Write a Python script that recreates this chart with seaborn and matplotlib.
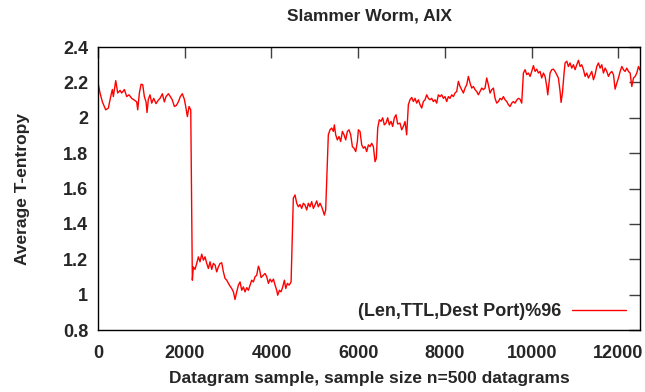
import matplotlib
matplotlib.use("Agg")
import matplotlib.pyplot as plt
import matplotlib.ticker as mticker
import seaborn as sns
import pandas as pd

# Values
sample = [
    0, 46, 100, 177, 238, 292, 330, 353, 408, 454, 507, 546, 607, 661, 715,
    776, 837, 892, 915, 953, 992, 1030, 1068, 1107, 1130, 1160, 1199, 1238,
    1284, 1337, 1391, 1430, 1483, 1529, 1568, 1622, 1668, 1714, 1760, 1806,
    1852, 1898, 1944, 1990, 2022, 2060, 2099, 2138, 2175, 2198, 2237, 2276,
    2314, 2352, 2391, 2430, 2468, 2506, 2545, 2583, 2622, 2660, 2699, 2737,
    2775, 2814, 2853, 2891, 2929, 2968, 3007, 3045, 3083, 3122, 3159, 3198,
    3237, 3275, 3314, 3352, 3390, 3429, 3467, 3505, 3544, 3582, 3621, 3659,
    3698, 3721, 3760, 3814, 3852, 3891, 3929, 3967, 4006, 4045, 4083, 4121,
    4144, 4183, 4220, 4260, 4298, 4329, 4367, 4406, 4452, 4504, 4543, 4582,
    4620, 4658, 4697, 4735, 4773, 4812, 4850, 4889, 4927, 4966, 5004, 5042,
    5081, 5120, 5158, 5196, 5219, 5250, 5311, 5350, 5389, 5427, 5450, 5481,
    5519, 5557, 5596, 5635, 5673, 5712, 5750, 5788, 5827, 5866, 5904, 5943,
    5981, 6004, 6042, 6081, 6119, 6158, 6196, 6235, 6273, 6311, 6350, 6388,
    6418, 6450, 6487, 6526, 6565, 6602, 6641, 6680, 6718, 6757, 6795, 6833,
    6872, 6910, 6964, 7003, 7042, 7080, 7118, 7157, 7195, 7234, 7272, 7311,
    7349, 7388, 7426, 7465, 7503, 7541, 7580, 7618, 7656, 7695, 7733, 7772,
    7810, 7849, 7887, 7926, 7964, 8002, 8041, 8080, 8118, 8157, 8195, 8233,
    8272, 8310, 8349, 8387, 8426, 8464, 8503, 8541, 8579, 8618, 8657, 8695,
    8733, 8772, 8810, 8849, 8887, 8925, 8964, 9002, 9041, 9080, 9118, 9156,
    9195, 9234, 9272, 9310, 9349, 9387, 9426, 9464, 9502, 9541, 9579, 9618,
    9656, 9695, 9733, 9771, 9810, 9849, 9887, 9925, 9964, 10002, 10041,
    10080, 10118, 10156, 10195, 10233, 10272, 10310, 10349, 10372, 10400,
    10425, 10464, 10502, 10540, 10579, 10617, 10656, 10679, 10710, 10748,
    10771, 10810, 10848, 10887, 10925, 10964, 11002, 11041, 11080, 11118,
    11156, 11195, 11233, 11272, 11310, 11349, 11387, 11426, 11464, 11502,
    11541, 11579, 11618, 11656, 11695, 11733, 11772, 11810, 11849, 11887,
    11925, 11964, 12002, 12041, 12080, 12118, 12156, 12195, 12233, 12272,
    12310, 12349, 12387, 12425, 12464, 12500,
]
entropy = [
    2.197, 2.14, 2.09, 2.045, 2.055, 2.12, 2.16, 2.12, 2.21, 2.14, 2.155, 2.14,
    2.16, 2.12, 2.13, 2.11, 2.10, 2.09, 2.045, 2.14, 2.19, 2.187, 2.12, 2.09,
    2.03, 2.105, 2.13, 2.083, 2.11, 2.08, 2.10, 2.11, 2.136, 2.09, 2.12, 2.136,
    2.12, 2.10, 2.064, 2.07, 2.09, 2.12, 2.136, 2.105, 2.064, 2.007, 2.064,
    2.045, 1.082, 1.157, 1.143, 1.177, 1.214, 1.186, 1.229, 1.195, 1.214,
    1.177, 1.148, 1.186, 1.143, 1.177, 1.168, 1.129, 1.157, 1.177, 1.18,
    1.129, 1.092, 1.082, 1.064, 1.048, 1.035, 1.016, 0.973, 1.016, 1.054,
    1.072, 1.025, 1.044, 1.016, 1.04, 1.025, 1.054, 1.082, 1.072, 1.101,
    1.11, 1.161, 1.148, 1.097, 1.11, 1.12, 1.101, 1.064, 1.088, 1.072, 1.088,
    1.054, 1.025, 0.997, 1.025, 1.016, 1.044, 1.082, 1.035, 1.064, 1.054,
    1.072, 1.545, 1.564, 1.517, 1.497, 1.51, 1.488, 1.517, 1.507, 1.479,
    1.517, 1.497, 1.526, 1.488, 1.507, 1.53, 1.497, 1.517, 1.497, 1.469,
    1.45, 1.479, 1.904, 1.932, 1.942, 1.923, 1.96, 1.904, 1.875, 1.894,
    1.866, 1.923, 1.904, 1.875, 1.923, 1.932, 1.904, 1.837, 1.828, 1.809,
    1.866, 1.932, 1.923, 1.847, 1.828, 1.837, 1.809, 1.847, 1.837, 1.856,
    1.837, 1.752, 1.771, 1.942, 1.989, 1.98, 2.0, 1.96, 1.97, 2.0, 1.96,
    1.98, 1.951, 2.0, 2.017, 1.965, 1.97, 1.932, 1.951, 1.979, 1.904, 2.074,
    2.102, 2.115, 2.092, 2.11, 2.083, 2.102, 2.074, 2.055, 2.092, 2.102,
    2.13, 2.11, 2.102, 2.11, 2.092, 2.102, 2.083, 2.13, 2.12, 2.13, 2.11,
    2.12, 2.092, 2.12, 2.11, 2.13, 2.12, 2.14, 2.149, 2.206, 2.177, 2.159,
    2.14, 2.168, 2.187, 2.234, 2.197, 2.168, 2.177, 2.159, 2.149, 2.13,
    2.149, 2.168, 2.159, 2.168, 2.225, 2.187, 2.14, 2.159, 2.168, 2.11,
    2.083, 2.092, 2.11, 2.102, 2.12, 2.102, 2.092, 2.074, 2.064, 2.083,
    2.092, 2.083, 2.1, 2.11, 2.105, 2.083, 2.253, 2.272, 2.244, 2.253,
    2.234, 2.262, 2.295, 2.262, 2.275, 2.253, 2.262, 2.225, 2.253, 2.234,
    2.177, 2.13, 2.196, 2.253, 2.272, 2.275, 2.262, 2.244, 2.225, 2.149,
    2.087, 2.14, 2.253, 2.31, 2.32, 2.29, 2.31, 2.281, 2.3, 2.272, 2.3,
    2.325, 2.29, 2.3, 2.272, 2.234, 2.253, 2.225, 2.244, 2.262, 2.215,
    2.244, 2.29, 2.31, 2.281, 2.3, 2.253, 2.281, 2.262, 2.234, 2.253, 2.262,
    2.244, 2.162, 2.196, 2.225, 2.262, 2.29, 2.272, 2.262, 2.281, 2.262,
    2.253, 2.177, 2.225, 2.234, 2.253, 2.29, 2.27,
]
series_label = "(Len,TTL,Dest Port)%96"
x_ticks = [0, 2000, 4000, 6000, 8000, 10000, 12000]
y_ticks = [0.8, 1.0, 1.2, 1.4, 1.6, 1.8, 2.0, 2.2, 2.4]

df = pd.DataFrame({"sample": sample, "entropy": entropy})

sns.set_theme(style="white")
plt.rcParams["font.family"] = ["Liberation Sans", "DejaVu Sans"]

fig = plt.figure(figsize=(6.45, 3.92), dpi=100)
ax = fig.add_axes([0.152, 0.158, 0.8403, 0.722])

sns.lineplot(data=df, x="sample", y="entropy", color="#ff0000", linewidth=1.0,
             label=series_label, ax=ax)

ax.set_xlim(0, 12500)
ax.set_ylim(0.8, 2.4)
ax.set_xticks(x_ticks)
ax.set_yticks(y_ticks)
ax.yaxis.set_major_formatter(mticker.FormatStrFormatter("%g"))
ax.tick_params(direction="in", length=8, width=1, color="#404040",
               top=True, right=True, labelsize=13)
ax.tick_params(axis="x", pad=11)
ax.tick_params(axis="y", pad=7)
for lbl in ax.get_xticklabels() + ax.get_yticklabels():
    lbl.set_fontweight("bold")
for sp in ax.spines.values():
    sp.set_color("black")
    sp.set_linewidth(1.0)

ax.set_title("Slammer Worm, AIX", fontsize=12.5, fontweight="bold", pad=19)
ax.set_xlabel("Datagram sample, sample size n=500 datagrams", fontsize=12.5,
              fontweight="bold", labelpad=6)
ax.set_ylabel("Average T-entropy", fontsize=12.5, fontweight="bold", labelpad=24)

leg = ax.legend(loc="center right", bbox_to_anchor=(0.975, 0.064), frameon=False,
                markerfirst=False, handlelength=3.0, handletextpad=0.6,
                borderpad=0, borderaxespad=0, prop={"size": 13, "weight": "bold"})

fig.savefig("out.png", dpi=100)
